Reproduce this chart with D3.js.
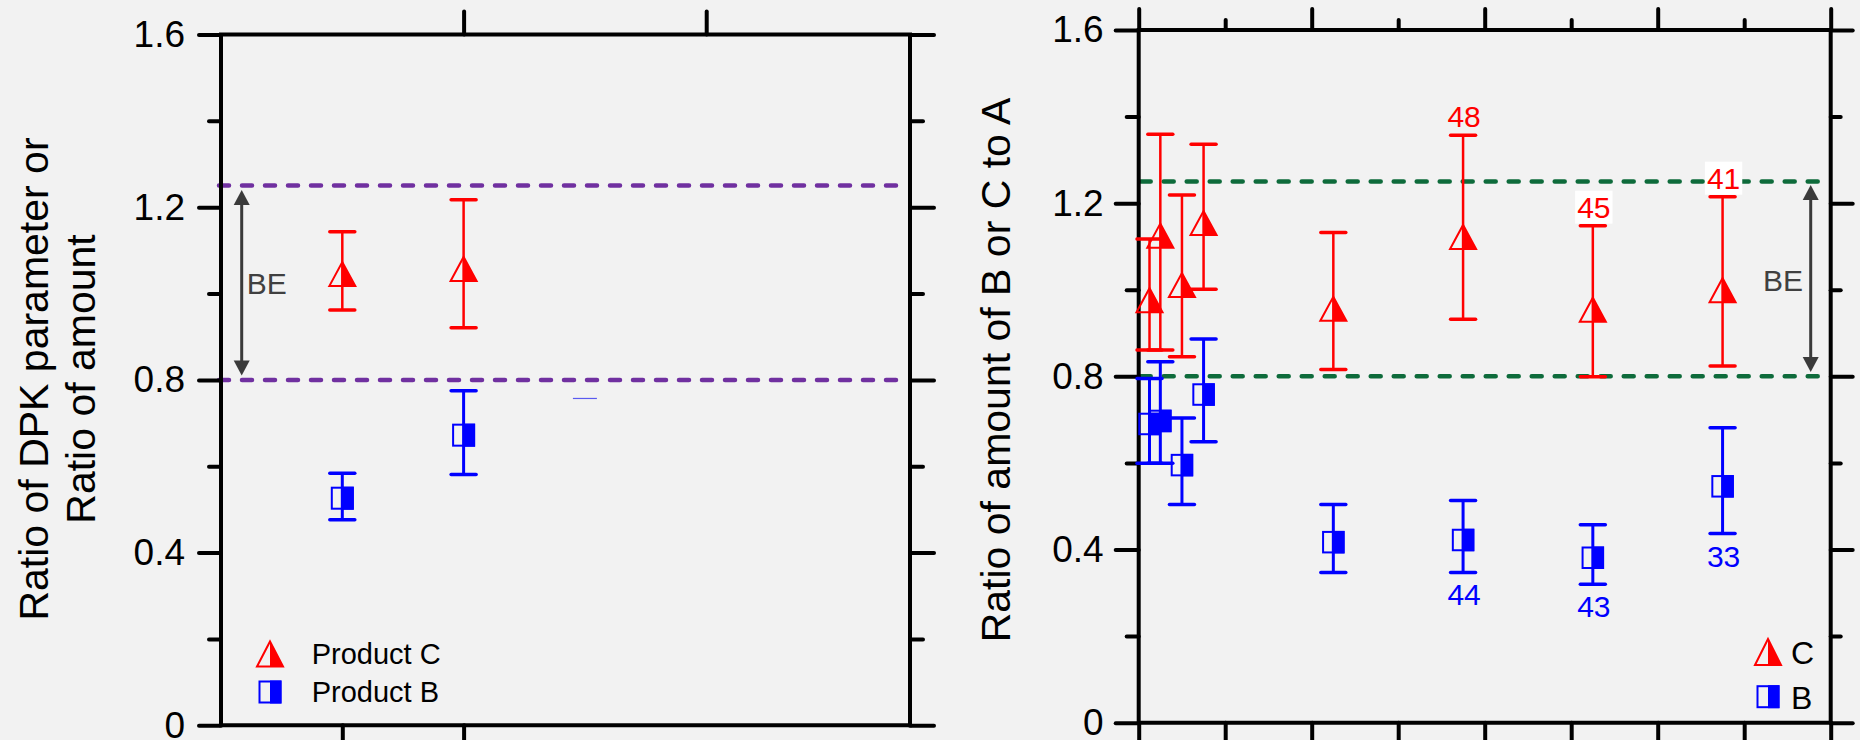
<!DOCTYPE html>
<html>
<head>
<meta charset="utf-8">
<script src="https://cdn.jsdelivr.net/npm/d3@7"></script>
<style>
  body { margin: 0; background: #f2f2f2; }
  svg { display: block; font-family: "Liberation Sans", Arial, Helvetica, sans-serif; }
</style>
</head>
<body>
<div id="chart"></div>
<script>
//---------------- data ----------------
// left panel: two products at positions 1 and 2
var leftPos   = [1, 2];
var leftCMean = [1.045, 1.057];
var leftCLo   = [0.962, 0.921];
var leftCHi   = [1.143, 1.217];
var leftBMean = [0.526, 0.672];
var leftBLo   = [0.476, 0.581];
var leftBHi   = [0.584, 0.775];
var leftStray = [{pos: 3, value: 0.757}];   // stray blue cap visible in the original

// right panel: time points
var times     = [0.5, 1, 2, 3, 9, 15, 21, 27];
var cMean     = [0.976, 1.125, 1.011, 1.154, 0.956, 1.122, 0.954, 0.999];
var cLo       = [0.861, 0.861, 0.845, 1.001, 0.816, 0.932, 0.799, 0.824];
var cHi       = [1.117, 1.359, 1.219, 1.336, 1.132, 1.357, 1.148, 1.215];
var bMean     = [0.690, 0.697, 0.595, 0.758, 0.417, 0.422, 0.381, 0.546];
var bLo       = [0.599, 0.599, 0.504, 0.649, 0.347, 0.347, 0.320, 0.437];
var bHi       = [0.795, 0.834, 0.704, 0.886, 0.504, 0.513, 0.457, 0.681];
var cLabels   = [null, null, null, null, null, "48", "45", "41"];
var cLabelBox = [false, false, false, false, false, false, true, true];
var bLabels   = [null, null, null, null, null, "44", "43", "33"];

var yMajor = [0, 0.4, 0.8, 1.2, 1.6];
var yMinor = [0.2, 0.6, 1.0, 1.4];
var beLimits = [0.8, 1.25];

//---------------- setup ----------------
var W = 1860, H = 740;
var RED = "#ff0000", BLUE = "#0000ff", INK = "#000";

var svg = d3.select("#chart").append("svg")
    .attr("width", W).attr("height", H);
svg.append("rect").attr("width", W).attr("height", H).attr("fill", "#f2f2f2");

var xL = d3.scaleLinear().domain([0, 5.68]).range([221, 910]);
var yL = d3.scaleLinear().domain([0, 1.6]).range([725.3, 34.5]);
var xR = d3.scaleLinear().domain([0, 32]).range([1138.7, 1830.7]);
var yR = d3.scaleLinear().domain([0, 1.6]).range([722.7, 30]);

//---------------- helpers ----------------
function styleAxis(sel) {
  sel.select(".domain").remove();
  sel.selectAll(".tick line").attr("stroke", INK).attr("stroke-width", 4).attr("stroke-linecap", "round");
  sel.selectAll(".tick text").attr("fill", INK).style("font-size", "37px")
      .style("font-family", "'Liberation Sans', Arial, sans-serif");
}

function frame(g, x, y) {
  var x0 = x.range()[0], x1 = x.range()[1], y0 = y.range()[0], y1 = y.range()[1];
  g.append("path")
    .attr("d", "M" + x0 + "," + y0 + "V" + y1 + "H" + x1 + "V" + y0 + "Z")
    .attr("fill", "none").attr("stroke", INK).attr("stroke-width", 4)
    .attr("stroke-linejoin", "miter");
}

function dashed(g, x0, x1, yv, color) {
  g.append("line")
    .attr("x1", x0).attr("x2", x1).attr("y1", yv).attr("y2", yv)
    .attr("stroke", color).attr("stroke-width", 4.5)
    .attr("stroke-dasharray", "10 13").attr("stroke-linecap", "round");
}

function beArrow(g, ax, yTop, yBot, tx, ty, anchor) {
  var c = "#3a3a3a", hw = 8, hl = 15;
  g.append("line").attr("x1", ax).attr("x2", ax).attr("y1", yTop + hl - 2).attr("y2", yBot - hl + 2)
    .attr("stroke", c).attr("stroke-width", 3);
  g.append("path").attr("fill", c)
    .attr("d", "M" + ax + "," + yTop + "L" + (ax + hw) + "," + (yTop + hl) + "L" + (ax - hw) + "," + (yTop + hl) + "Z");
  g.append("path").attr("fill", c)
    .attr("d", "M" + ax + "," + yBot + "L" + (ax + hw) + "," + (yBot - hl) + "L" + (ax - hw) + "," + (yBot - hl) + "Z");
  g.append("text").attr("x", tx).attr("y", ty).attr("text-anchor", anchor)
    .attr("fill", "#404040").style("font-size", "30px").text("BE");
}

function errorBars(g, data, color, barW) {
  var sel = g.append("g").selectAll("g").data(data).enter().append("g");
  sel.append("line")
    .attr("x1", function(d){ return d.x; }).attr("x2", function(d){ return d.x; })
    .attr("y1", function(d){ return d.yLo; }).attr("y2", function(d){ return d.yHi; })
    .attr("stroke", color).attr("stroke-width", barW);
  ["yLo", "yHi"].forEach(function(k) {
    sel.append("line")
      .attr("x1", function(d){ return d.x - 12.5; }).attr("x2", function(d){ return d.x + 12.5; })
      .attr("y1", function(d){ return d[k]; }).attr("y2", function(d){ return d[k]; })
      .attr("stroke", color).attr("stroke-width", 3.5).attr("stroke-linecap", "round");
  });
}

function triangle(g, cx, cy, w, h) {
  var m = g.append("g").attr("transform", "translate(" + cx + "," + cy + ")");
  m.append("path").attr("d", "M0," + (-h/2) + "L" + (w/2) + "," + (h/2) + "L0," + (h/2) + "Z").attr("fill", RED);
  m.append("path").attr("d", "M" + (-w/2) + "," + (h/2) + "L0," + (-h/2) + "L" + (w/2) + "," + (h/2) + "Z")
    .attr("fill", "none").attr("stroke", RED).attr("stroke-width", 2).attr("stroke-linejoin", "miter");
}

function square(g, cx, cy, s) {
  var m = g.append("g").attr("transform", "translate(" + cx + "," + cy + ")");
  m.append("rect").attr("x", 0).attr("y", -s/2).attr("width", s/2).attr("height", s).attr("fill", BLUE);
  m.append("rect").attr("x", -s/2 + 1).attr("y", -s/2 + 1).attr("width", s - 2).attr("height", s - 2)
    .attr("fill", "none").attr("stroke", BLUE).attr("stroke-width", 2);
}

//============ LEFT PANEL ============
var gl = svg.append("g");

// reference lines
beLimits.forEach(function(v){ dashed(gl, xL(0) - 2, xL(5.606), yL(v), "#7030a0"); });

// axes: ticks
gl.append("g").attr("transform", "translate(" + xL(0) + ",0)")
  .call(d3.axisLeft(yL).tickValues(yMajor).tickSize(22).tickPadding(14).tickFormat(d3.format("~g"))).call(styleAxis);
gl.append("g").attr("transform", "translate(" + xL(0) + ",0)")
  .call(d3.axisLeft(yL).tickValues(yMinor).tickSize(12).tickFormat("")).call(styleAxis);
gl.append("g").attr("transform", "translate(" + xL(5.68) + ",0)")
  .call(d3.axisRight(yL).tickValues(yMajor).tickSize(24).tickFormat("")).call(styleAxis);
gl.append("g").attr("transform", "translate(" + xL(5.68) + ",0)")
  .call(d3.axisRight(yL).tickValues(yMinor).tickSize(13).tickFormat("")).call(styleAxis);
gl.append("g").attr("transform", "translate(0," + yL(1.6) + ")")
  .call(d3.axisTop(xL).tickValues([2, 4]).tickSize(23).tickFormat("")).call(styleAxis);
gl.append("g").attr("transform", "translate(0," + yL(0) + ")")
  .call(d3.axisBottom(xL).tickValues([1, 2]).tickSize(30).tickFormat("")).call(styleAxis);
frame(gl, xL, yL);

beArrow(gl, 241.7, yL(1.24), yL(0.81), 246.7, yL(1.0), "start");

// stray cap
gl.selectAll(".stray").data(leftStray).enter().append("line")
  .attr("x1", function(d){ return xL(d.pos) - 12; }).attr("x2", function(d){ return xL(d.pos) + 12; })
  .attr("y1", function(d){ return yL(d.value); }).attr("y2", function(d){ return yL(d.value); })
  .attr("stroke", "#5a5af0").attr("stroke-width", 1.2);

var lC = leftPos.map(function(p, i){ return {x: xL(p), y: yL(leftCMean[i]), yLo: yL(leftCLo[i]), yHi: yL(leftCHi[i])}; });
var lB = leftPos.map(function(p, i){ return {x: xL(p), y: yL(leftBMean[i]), yLo: yL(leftBLo[i]), yHi: yL(leftBHi[i])}; });
errorBars(gl, lC, RED, 2.5);
errorBars(gl, lB, BLUE, 3);
lC.forEach(function(d){ triangle(gl, d.x, d.y, 26, 24); });
lB.forEach(function(d){ square(gl, d.x, d.y, 23); });

// legend
triangle(gl, 270, 654, 26, 25);
square(gl, 270, 692, 23);
gl.append("text").attr("x", 311.7).attr("y", 664).style("font-size", "29px").attr("fill", INK).text("Product C");
gl.append("text").attr("x", 311.7).attr("y", 701.7).style("font-size", "29px").attr("fill", INK).text("Product B");

// y label
var lab = gl.append("text").attr("transform", "translate(48,379) rotate(-90)")
  .attr("text-anchor", "middle").style("font-size", "41px").attr("fill", INK);
lab.append("tspan").attr("x", 0).attr("dy", 0).text("Ratio of DPK parameter or");
lab.append("tspan").attr("x", 0).attr("dy", 47).text("Ratio of amount");

//============ RIGHT PANEL ============
var gr = svg.append("g");

beLimits.forEach(function(v){ dashed(gr, xR(0) + 2, xR(31.54), yR(v), "#0e6b3b"); });

gr.append("g").attr("transform", "translate(" + xR(0) + ",0)")
  .call(d3.axisLeft(yR).tickValues(yMajor).tickSize(23).tickPadding(12).tickFormat(d3.format("~g"))).call(styleAxis);
gr.append("g").attr("transform", "translate(" + xR(0) + ",0)")
  .call(d3.axisLeft(yR).tickValues(yMinor).tickSize(12).tickFormat("")).call(styleAxis);
gr.append("g").attr("transform", "translate(" + xR(32) + ",0)")
  .call(d3.axisRight(yR).tickValues(yMajor).tickSize(22).tickFormat("")).call(styleAxis);
gr.append("g").attr("transform", "translate(" + xR(32) + ",0)")
  .call(d3.axisRight(yR).tickValues(yMinor).tickSize(10).tickFormat("")).call(styleAxis);
gr.append("g").attr("transform", "translate(0," + yR(1.6) + ")")
  .call(d3.axisTop(xR).tickValues([0, 8, 16, 24, 32]).tickSize(21).tickFormat("")).call(styleAxis);
gr.append("g").attr("transform", "translate(0," + yR(1.6) + ")")
  .call(d3.axisTop(xR).tickValues([4, 12, 20, 28]).tickSize(10).tickFormat("")).call(styleAxis);
gr.append("g").attr("transform", "translate(0," + yR(0) + ")")
  .call(d3.axisBottom(xR).tickValues(d3.range(0, 33, 4)).tickSize(30).tickFormat("")).call(styleAxis);
frame(gr, xR, yR);

beArrow(gr, 1810.7, yR(1.242), yR(0.81), 1803, yR(1.0) + 1, "end");

var rC = times.map(function(t, i){ return {x: xR(t), y: yR(cMean[i]), yLo: yR(cLo[i]), yHi: yR(cHi[i]), lab: cLabels[i], box: cLabelBox[i]}; });
var rB = times.map(function(t, i){ return {x: xR(t), y: yR(bMean[i]), yLo: yR(bLo[i]), yHi: yR(bHi[i]), lab: bLabels[i]}; });
errorBars(gr, rC, RED, 2.5);
errorBars(gr, rB, BLUE, 3);
rC.forEach(function(d){ triangle(gr, d.x, d.y, 26, 24); });
rB.forEach(function(d){ square(gr, d.x, d.y, 22.5); });

// count labels
rC.filter(function(d){ return d.lab; }).forEach(function(d){
  var t = gr.append("text").attr("x", d.x + 1).attr("y", d.yHi - 8).attr("text-anchor", "middle")
    .style("font-size", "30px").attr("fill", RED).text(d.lab);
  if (d.box) {
    var bb = t.node().getBBox();
    gr.insert("rect", function(){ return t.node(); })
      .attr("x", bb.x - 2).attr("y", bb.y).attr("width", bb.width + 4).attr("height", bb.height)
      .attr("fill", "#ffffff");
  }
});
rB.filter(function(d){ return d.lab; }).forEach(function(d){
  gr.append("text").attr("x", d.x + 1).attr("y", d.yLo + 33).attr("text-anchor", "middle")
    .style("font-size", "30px").attr("fill", BLUE).text(d.lab);
});

// legend
triangle(gr, 1768, 652, 26, 26);
square(gr, 1768, 696.7, 23);
gr.append("text").attr("x", 1791).attr("y", 663.5).style("font-size", "32px").attr("fill", INK).text("C");
gr.append("text").attr("x", 1791).attr("y", 708.5).style("font-size", "32px").attr("fill", INK).text("B");

// y label
gr.append("text").attr("transform", "translate(1010,370) rotate(-90)")
  .attr("text-anchor", "middle").style("font-size", "41px").attr("fill", INK)
  .text("Ratio of amount of B or C to A");
</script>
</body>
</html>
